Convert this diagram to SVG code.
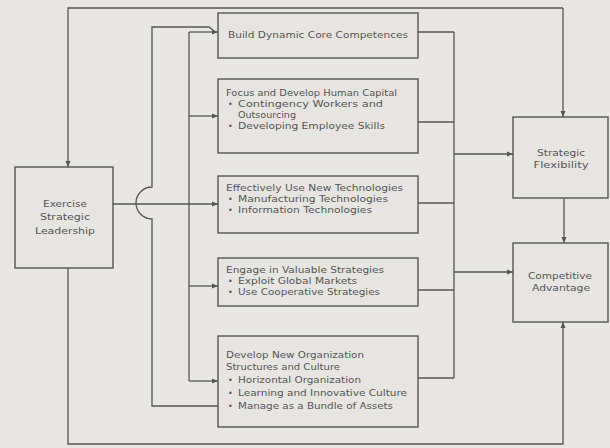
<svg xmlns="http://www.w3.org/2000/svg" width="610" height="448" viewBox="0 0 610 448">
<style>
.bg{fill:#e8e7e3}
.box{fill:#e6e5e1;stroke:#555;stroke-width:1.4}
.ln{fill:none;stroke:#555;stroke-width:1.3}
text{font-family:"DejaVu Sans","Liberation Sans",sans-serif;font-size:8px;fill:#555}
.c{text-anchor:middle}
</style>
<defs>
<marker id="ar" markerWidth="6" markerHeight="6" refX="6" refY="3" orient="auto" markerUnits="userSpaceOnUse">
<path d="M0,0.5 L6,3 L0,5.5 z" fill="#555"/>
</marker>
</defs>
<rect class="bg" x="0" y="0" width="610" height="448"/>
<g id="connectors">
<path class="ln" d="M563,8 H68 V167" marker-end="url(#ar)"/>
<path class="ln" d="M563,8 V117" marker-end="url(#ar)"/>
<path class="ln" d="M68,268 V444 H563 V322" marker-end="url(#ar)"/>
<path class="ln" d="M564,198 V243" marker-end="url(#ar)"/>
<path class="ln" d="M418,32 H454 M418,122 H454 M418,203 H454 M418,290 H454 M418,378 H454 M454,32 V378"/>
<path class="ln" d="M454,154 H513" marker-end="url(#ar)"/>
<path class="ln" d="M454,272 H513" marker-end="url(#ar)"/>
<path class="ln" d="M113,204 H218" marker-end="url(#ar)"/>
<path class="ln" d="M218,406 H152 V219 A16,16 0 0 1 152,187 V27 H209 L214,31"/>
<path class="ln" d="M189,381 V32"/>
<path class="ln" d="M189,32 H218" marker-end="url(#ar)"/>
<path class="ln" d="M189,116 H218" marker-end="url(#ar)"/>
<path class="ln" d="M189,286 H218" marker-end="url(#ar)"/>
<path class="ln" d="M189,381 H218" marker-end="url(#ar)"/>
</g>
<g id="leadership">
<rect class="box" x="15" y="167" width="98" height="101"/>
<text class="c" x="65" y="207" textLength="44" lengthAdjust="spacingAndGlyphs">Exercise</text>
<text class="c" x="65" y="220" textLength="50" lengthAdjust="spacingAndGlyphs">Strategic</text>
<text class="c" x="65" y="234" textLength="60" lengthAdjust="spacingAndGlyphs">Leadership</text>
</g>
<g id="core">
<rect class="box" x="218" y="13" width="200" height="45"/>
<text x="228" y="38" textLength="180" lengthAdjust="spacingAndGlyphs">Build Dynamic Core Competences</text>
</g>
<g id="human">
<rect class="box" x="218" y="79" width="200" height="74"/>
<text x="226" y="96" textLength="171" lengthAdjust="spacingAndGlyphs">Focus and Develop Human Capital</text>
<text x="228" y="107">•</text>
<text x="238" y="107" textLength="145" lengthAdjust="spacingAndGlyphs">Contingency Workers and</text>
<text x="238" y="118" textLength="58" lengthAdjust="spacingAndGlyphs">Outsourcing</text>
<text x="228" y="129">•</text>
<text x="238" y="129" textLength="147" lengthAdjust="spacingAndGlyphs">Developing Employee Skills</text>
</g>
<g id="tech">
<rect class="box" x="218" y="176" width="200" height="57"/>
<text x="226" y="191" textLength="177" lengthAdjust="spacingAndGlyphs">Effectively Use New Technologies</text>
<text x="228" y="202">•</text>
<text x="238" y="202" textLength="150" lengthAdjust="spacingAndGlyphs">Manufacturing Technologies</text>
<text x="228" y="213">•</text>
<text x="238" y="213" textLength="134" lengthAdjust="spacingAndGlyphs">Information Technologies</text>
</g>
<g id="strategies">
<rect class="box" x="218" y="258" width="200" height="48"/>
<text x="226" y="273" textLength="158" lengthAdjust="spacingAndGlyphs">Engage in Valuable Strategies</text>
<text x="228" y="284">•</text>
<text x="238" y="284" textLength="119" lengthAdjust="spacingAndGlyphs">Exploit Global Markets</text>
<text x="228" y="295">•</text>
<text x="238" y="295" textLength="142" lengthAdjust="spacingAndGlyphs">Use Cooperative Strategies</text>
</g>
<g id="organization">
<rect class="box" x="218" y="336" width="200" height="91"/>
<text x="226" y="358" textLength="138" lengthAdjust="spacingAndGlyphs">Develop New Organization</text>
<text x="226" y="370" textLength="114" lengthAdjust="spacingAndGlyphs">Structures and Culture</text>
<text x="228" y="383">•</text>
<text x="238" y="383" textLength="123" lengthAdjust="spacingAndGlyphs">Horizontal Organization</text>
<text x="228" y="396">•</text>
<text x="238" y="396" textLength="169" lengthAdjust="spacingAndGlyphs">Learning and Innovative Culture</text>
<text x="228" y="409">•</text>
<text x="238" y="409" textLength="155" lengthAdjust="spacingAndGlyphs">Manage as a Bundle of Assets</text>
</g>
<g id="flexibility">
<rect class="box" x="513" y="117" width="95" height="81"/>
<text class="c" x="561" y="156" textLength="48" lengthAdjust="spacingAndGlyphs">Strategic</text>
<text class="c" x="561" y="168" textLength="55" lengthAdjust="spacingAndGlyphs">Flexibility</text>
</g>
<g id="advantage">
<rect class="box" x="513" y="243" width="95" height="79"/>
<text class="c" x="560" y="279" textLength="64" lengthAdjust="spacingAndGlyphs">Competitive</text>
<text class="c" x="561" y="291" textLength="58" lengthAdjust="spacingAndGlyphs">Advantage</text>
</g>
</svg>
